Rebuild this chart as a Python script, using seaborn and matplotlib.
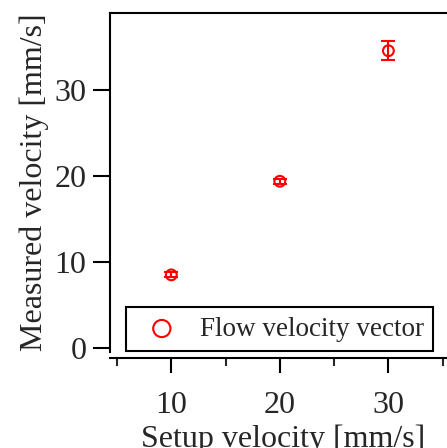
import numpy as np
import matplotlib
matplotlib.use("Agg")
import matplotlib.pyplot as plt
import seaborn as sns
import pandas as pd

# data
setup_velocity = [10, 20, 30]
measured_velocity = [8.5, 19.4, 34.6]
measured_err = [0.3, 0.3, 1.1]
series_name = "Flow velocity vector"

df = pd.DataFrame({"setup": setup_velocity, "measured": measured_velocity, "err": measured_err})

sns.set_style("ticks")
plt.rcParams['font.family'] = ['Liberation Serif', 'DejaVu Serif']
plt.rcParams['mathtext.fontset'] = 'stix'

fig = plt.figure(figsize=(4.47, 4.48), dpi=100)
ax = fig.add_axes([0.246, 0.214, 0.754, 0.757])

ax.errorbar(df["setup"], df["measured"], yerr=df["err"], fmt='none',
            ecolor='red', elinewidth=1.5, capsize=5, capthick=1.5, zorder=2)
sns.scatterplot(data=df, x="setup", y="measured", ax=ax, marker='o', s=60,
                facecolor='none', edgecolor='red', linewidth=1.5, label=series_name, zorder=3)

ax.set_xlim(4.35, 35.4)
ax.set_ylim(-0.5, 39)
ax.set_xticks([10, 20, 30])
ax.set_xticks([5, 15, 25, 35], minor=True)
ax.set_yticks([0, 10, 20, 30])

ax.set_xlabel("Setup velocity [mm/s]", fontsize=23)
ax.xaxis.set_label_coords(0.515, -0.212)
ax.set_ylabel("Measured velocity [mm/s]", fontsize=23, labelpad=4)

for s in ['left', 'top', 'bottom']:
    ax.spines[s].set_linewidth(1.5)
    ax.spines[s].set_color('black')
ax.spines['right'].set_visible(False)
ax.spines['bottom'].set_position(('outward', 4))

ax.tick_params(axis='both', which='major', labelsize=23, width=1.5, color='black')
ax.tick_params(axis='y', which='major', length=12, pad=5)
ax.tick_params(axis='x', which='major', length=11, pad=13)
ax.tick_params(axis='x', which='minor', length=6, width=1.5)
ax.tick_params(top=False, right=False)

leg = ax.legend(loc='lower left', bbox_to_anchor=(0.047, 0.003), borderaxespad=0,
                fontsize=19.5, frameon=True, fancybox=False, markerscale=1.6,
                handlelength=1.96, handletextpad=0.43, borderpad=0.35)
leg.get_frame().set_edgecolor('black')
leg.get_frame().set_linewidth(1.5)
leg.get_frame().set_alpha(1)

fig.savefig("out.png", dpi=100)
